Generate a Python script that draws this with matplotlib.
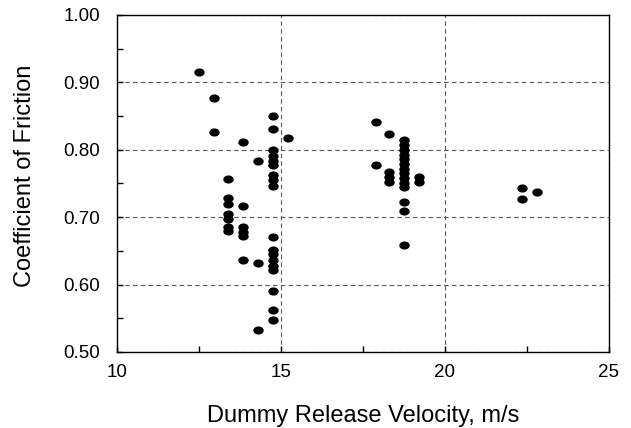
import matplotlib
matplotlib.use("Agg")
import matplotlib.pyplot as plt
from matplotlib.path import Path
import numpy as np

plt.rcParams['font.family'] = ['Liberation Sans', 'DejaVu Sans']

v_groups = [12.5, 12.95, 13.4, 13.85, 14.3, 14.75, 15.2, 17.9, 18.3, 18.75, 19.2, 22.35, 22.8]
mu_groups = [
    [0.915],
    [0.877, 0.826],
    [0.756, 0.728, 0.720, 0.705, 0.697, 0.685, 0.680],
    [0.812, 0.716, 0.686, 0.678, 0.672, 0.637],
    [0.783, 0.632, 0.532],
    [0.850, 0.831, 0.799, 0.791, 0.784, 0.777, 0.763, 0.755, 0.747,
     0.670, 0.652, 0.645, 0.637, 0.628, 0.621, 0.591, 0.562, 0.548],
    [0.818],
    [0.841, 0.777],
    [0.823, 0.767, 0.760, 0.752],
    [0.815, 0.807, 0.800, 0.793, 0.786, 0.779, 0.772, 0.765, 0.758, 0.751, 0.745,
     0.723, 0.709, 0.659],
    [0.760, 0.752],
    [0.744, 0.727],
    [0.738],
]

velocity = []
friction = []
for v, mus in zip(v_groups, mu_groups):
    for m in mus:
        velocity.append(v)
        friction.append(m)

# slightly flattened dot, like the original
t = np.linspace(0, 2 * np.pi, 40)
ellipse = Path(np.column_stack([np.cos(t), 0.78 * np.sin(t)]), closed=True)

fig = plt.figure(figsize=(6.31, 4.28), dpi=100)
ax = fig.add_axes([0.1854, 0.1776, 0.7796, 0.7874])

ax.plot(velocity, friction, linestyle='none', marker=ellipse, markersize=7.5,
        color='black', markeredgewidth=0, zorder=3)

ax.set_xlim(10, 25)
ax.set_ylim(0.5, 1.0)
ax.set_xticks([10, 15, 20, 25])
ax.set_xticks([12.5, 17.5, 22.5], minor=True)
ax.set_yticks([0.5, 0.6, 0.7, 0.8, 0.9, 1.0])
ax.set_yticks([0.55, 0.65, 0.75, 0.85, 0.95], minor=True)
ax.set_yticklabels(['%.2f' % y for y in [0.5, 0.6, 0.7, 0.8, 0.9, 1.0]])

ax.tick_params(which='both', direction='in', top=False, right=False,
               length=4, width=1, labelsize=13.5, colors='black')
ax.tick_params(axis='x', pad=9)
ax.tick_params(axis='y', pad=12)

for s in ax.spines.values():
    s.set_linewidth(1.0)

ax.grid(True, which='major', linestyle=(0, (4, 3)), color='#555555', linewidth=0.8)
ax.set_axisbelow(True)

ax.set_xlabel('Dummy Release Velocity, m/s', fontsize=17, labelpad=17)
ax.set_ylabel('Coefficient of Friction', fontsize=17)
ax.yaxis.set_label_coords(-0.165, 0.522)

fig.savefig('out.png', dpi=100)
